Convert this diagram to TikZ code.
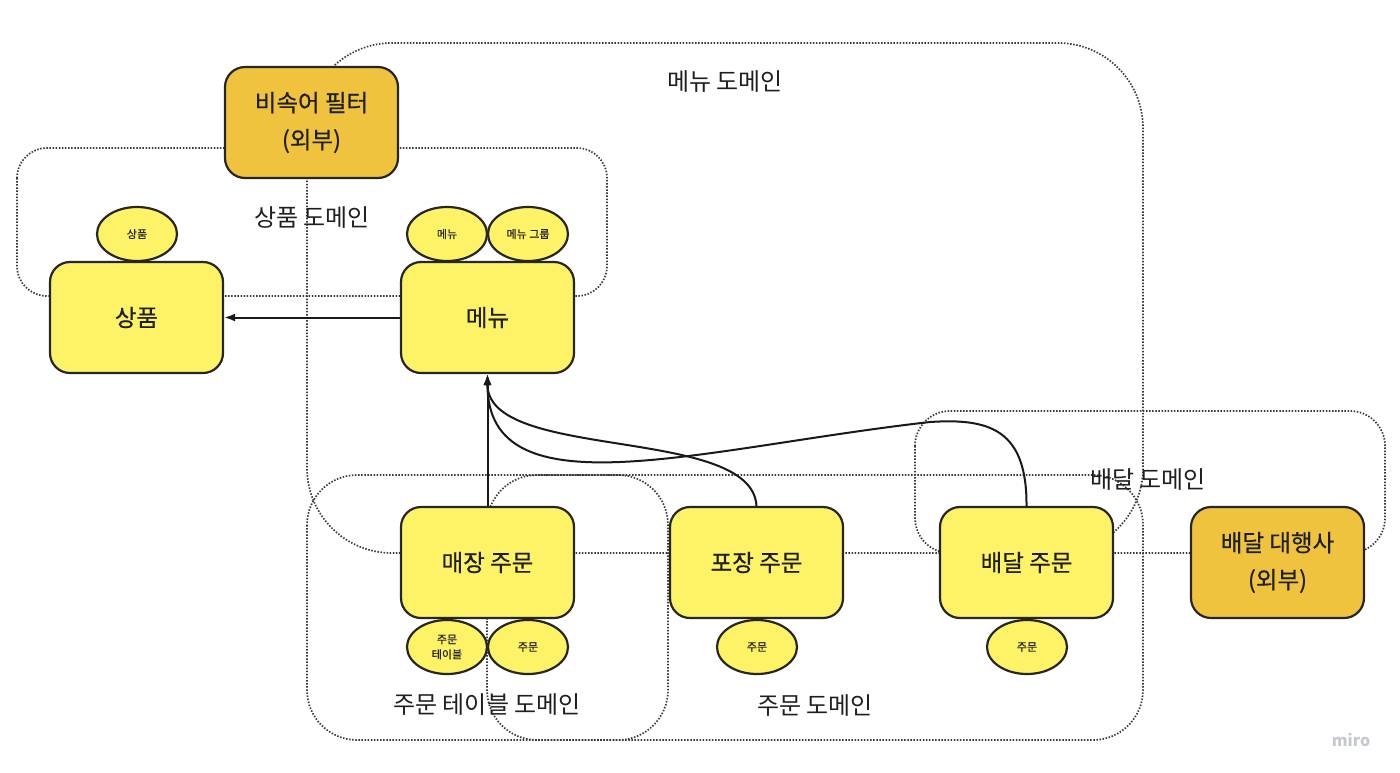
\documentclass[tikz,border=0pt]{standalone}
\usepackage{fontspec}
\setmainfont{Noto Sans CJK KR}
\newfontfamily\medfont{Noto Sans CJK KR}[FakeBold=0.6]
\usetikzlibrary{arrows.meta,shapes.geometric}
\definecolor{boxyellow}{HTML}{FEF266}
\definecolor{boxgold}{HTML}{F0C33E}
\definecolor{edge}{HTML}{262626}
\definecolor{dotgray}{HTML}{3A3A3A}
\definecolor{mirogray}{HTML}{C5C8D0}
\begin{document}
\begin{tikzpicture}[x=1pt,y=-1pt,
 domainbox/.style={draw=dotgray, line width=1.7pt, dash pattern=on 1.5pt off 1.6pt},
 ctxbox/.style={draw=edge, line width=2.2pt, fill=boxyellow, rounded corners=20pt, minimum width=173pt, minimum height=111pt, font=\medfont\fontsize{23.5}{37}\selectfont, align=center, text=black!88},
 extbox/.style={ctxbox, fill=boxgold},
 entity/.style={draw=edge, line width=2.2pt, fill=boxyellow, ellipse, minimum width=80pt, minimum height=54pt, inner sep=0pt, font=\medfont\fontsize{11}{15}\selectfont, align=center, text=black!85},
 domlabel/.style={font=\fontsize{24}{28}\selectfont, text=black!88},
 conn/.style={draw=black!90, line width=2pt, -{Latex[length=11pt,width=8pt]}}
]
\useasboundingbox (0,0) rectangle (1400,772);
% domain regions
\draw[domainbox, rounded corners=85pt] (307,43) rectangle (1143,553);
\draw[domainbox, rounded corners=30pt] (17,148) rectangle (607,296);
\draw[domainbox, rounded corners=50pt] (307,475) rectangle (668,740);
\draw[domainbox, rounded corners=50pt] (487,475) rectangle (1143,740);
\draw[domainbox, rounded corners=35pt] (915,411) rectangle (1385,553);
% domain labels
\node[domlabel] (lblmenu) at (725,82) {메뉴 도메인};
\node[domlabel] (lblprod) at (312,218) {상품 도메인};
\node[domlabel] (lbldel) at (1148,480) {배달 도메인};
\node[domlabel] (lbltable) at (487,705) {주문 테이블 도메인};
\node[domlabel] (lblorder) at (815,705) {주문 도메인};
% boxes
\node[extbox] (filter) at (311.5,122.5) {비속어 필터\\(외부)};
\node[ctxbox] (product) at (136.5,317.5) {상품};
\node[ctxbox] (menu) at (487.5,317.5) {메뉴};
\node[ctxbox] (store) at (487.5,562.5) {매장 주문};
\node[ctxbox] (takeout) at (756.5,562.5) {포장 주문};
\node[ctxbox] (delivery) at (1026.5,562.5) {배달 주문};
\node[extbox] (agency) at (1277.5,562.5) {배달 대행사\\(외부)};
% entities
\node[entity] (eprod) at (137,234) {상품};
\node[entity] (emenu) at (447,234) {메뉴};
\node[entity] (egroup) at (528,234) {메뉴 그룹};
\node[entity] (etable) at (447,647) {주문\\테이블};
\node[entity] (eorder1) at (528,647) {주문};
\node[entity] (eorder2) at (757,647) {주문};
\node[entity] (eorder3) at (1027,647) {주문};
% connectors
\coordinate (dpeak) at (930,422);
\draw[conn] (menu.west) -- (product.east);
\draw[conn] (store.north) -- (menu.south);
\draw[conn] (takeout.north) .. controls (752,425) and (487,462) .. (menu.south);
\draw[draw=black!90, line width=2pt] (delivery.north) .. controls (1027,430) and (990,418) .. (dpeak);
\draw[conn] (dpeak) .. controls (700,448) and (487,515) .. (menu.south);
% watermark
\node[text=mirogray, font=\fontsize{16}{18}\selectfont\bfseries] (miro) at (1351,740) {miro};
\end{tikzpicture}
\end{document}
